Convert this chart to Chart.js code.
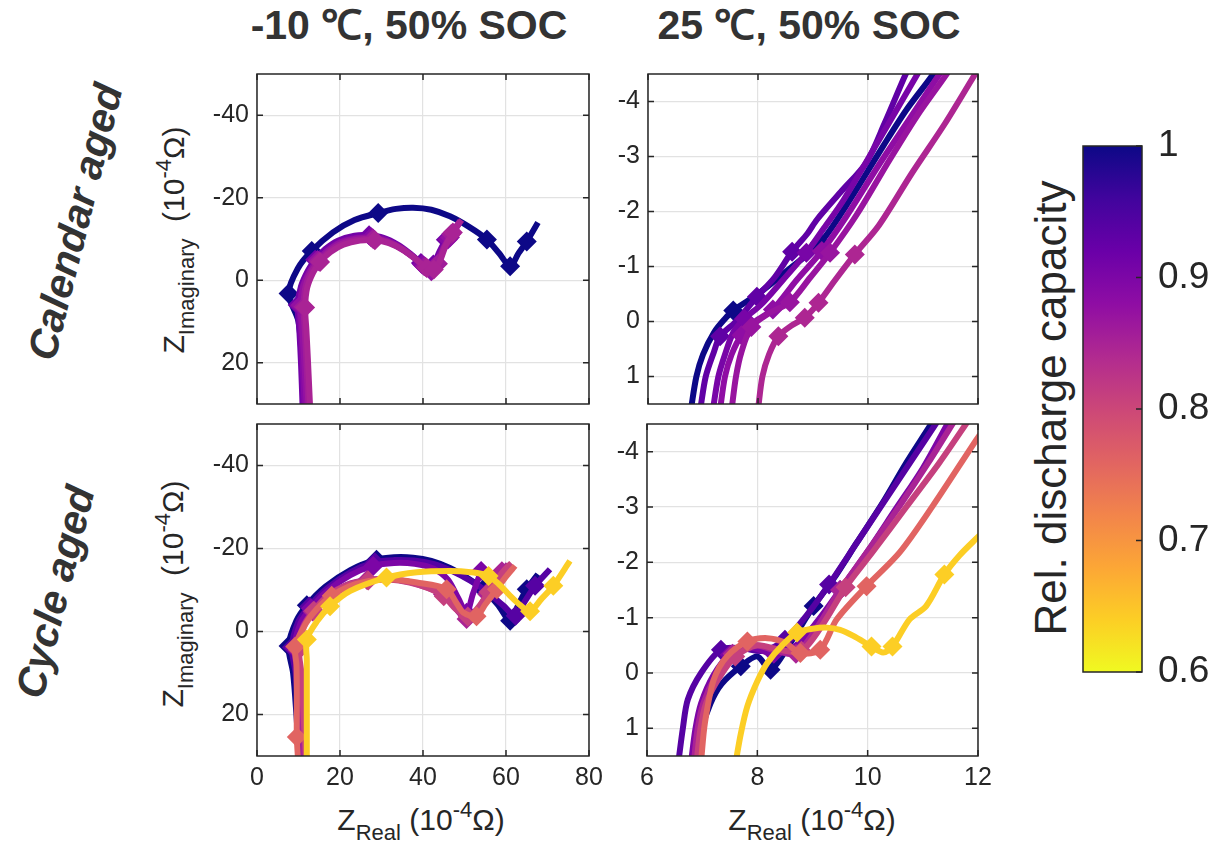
<!DOCTYPE html>
<html>
<head>
<meta charset="utf-8">
<script src="https://cdn.jsdelivr.net/npm/chart.js@4.4.1/dist/chart.umd.min.js"></script>
<style>
body{margin:0;background:#fff;width:1220px;height:844px;position:relative;overflow:hidden;font-family:'Liberation Sans',Arial,sans-serif;color:#262626}
.cv{position:absolute}
.head{position:absolute;top:5px;font:bold 41px/40px 'Liberation Sans',Arial,sans-serif;color:#333;transform:translateX(-50%);white-space:nowrap}
.row{position:absolute;font:italic bold 41px/40px 'Liberation Sans',Arial,sans-serif;color:#333;white-space:nowrap;transform:translate(-50%,-50%) rotate(-76deg)}
.ylab{position:absolute;font:30px/30px 'Liberation Sans',Arial,sans-serif;white-space:nowrap;transform:translate(-50%,-50%) rotate(-90deg)}
.xlab{position:absolute;font:30px/30px 'Liberation Sans',Arial,sans-serif;white-space:nowrap;transform:translateX(-50%)}
.cbt{position:absolute;font:44px/44px 'Liberation Sans',Arial,sans-serif;white-space:nowrap;transform:translate(-50%,-50%) rotate(-90deg)}
sub,sup{font-size:22px;line-height:0;position:relative;vertical-align:baseline}
sub{top:10px}
sup{top:-13px}
</style>
</head>
<body>
<div class="head" style="left:409px">-10 ℃, 50% SOC</div>
<div class="head" style="left:809px">25 ℃, 50% SOC</div>
<div class="row" style="left:75px;top:222px">Calendar aged</div>
<div class="row" style="left:55px;top:592px">Cycle aged</div>
<div class="ylab" style="left:174px;top:240px">Z<sub>Imaginary</sub>&nbsp; (10<sup>-4</sup>Ω)</div>
<div class="ylab" style="left:173px;top:594px">Z<sub>Imaginary</sub>&nbsp; (10<sup>-4</sup>Ω)</div>
<div class="xlab" style="left:421px;top:805px">Z<sub>Real</sub> (10<sup>-4</sup>Ω)</div>
<div class="xlab" style="left:812px;top:805px">Z<sub>Real</sub> (10<sup>-4</sup>Ω)</div>
<div class="cbt" style="left:1051px;top:408px">Rel. discharge capacity</div>

<canvas id="tl" class="cv" width="414" height="354" style="left:195px;top:60px"></canvas>
<canvas id="tr" class="cv" width="412" height="354" style="left:586px;top:60px"></canvas>
<canvas id="bl" class="cv" width="414" height="392" style="left:195px;top:410px"></canvas>
<canvas id="br" class="cv" width="413" height="392" style="left:585px;top:410px"></canvas>
<canvas id="cb" class="cv" width="141" height="570" style="left:1079px;top:126px"></canvas>

<script>
// axis ranges and ticks
var coldRe = [0, 80], coldIm = [-50, 30];
var warmRe = [6, 12], warmIm = [-4.5, 1.5];
var coldReTicks = [0, 20, 40, 60, 80];
var coldImTicks = [-40, -20, 0, 20];
var warmReTicks = [6, 8, 10, 12];
var warmImTicks = [-4, -3, -2, -1, 0, 1];
var capRange = [0.6, 1.0];
var capTicks = [0.6, 0.7, 0.8, 0.9, 1];

// -10 C, calendar aged (rel. capacity of each curve)
var calColdCap = [1.0, 0.91, 0.89, 0.875, 0.86, 0.85];
var calColdRe = [
  [11.2, 10.8, 10.0, 7.6, 9.8, 13.2, 18.3, 23.5, 29.2, 33.5, 37.6, 42.0, 46.5, 51.0, 55.4, 58.3, 61.0, 63.0, 65.0, 67.7],
  [11.0, 10.6, 10.2, 9.8, 10.6, 12.2, 14.0, 16.5, 19.5, 23.5, 27.0, 30.5, 34.0, 37.0, 39.5, 41.0, 42.5, 44.0, 45.5, 47.3],
  [11.5, 11.0, 10.6, 10.3, 11.0, 12.6, 14.5, 17.0, 20.0, 24.0, 27.5, 31.0, 34.3, 37.3, 39.8, 41.5, 42.8, 44.3, 46.0, 48.0],
  [12.0, 11.4, 10.9, 10.5, 11.2, 12.8, 14.6, 17.2, 20.3, 24.3, 27.9, 31.3, 34.6, 37.7, 40.3, 42.0, 43.3, 44.8, 46.5, 48.6],
  [12.4, 11.9, 11.5, 11.2, 11.7, 13.1, 14.9, 17.4, 20.5, 24.5, 28.0, 31.5, 35.0, 38.0, 40.6, 42.3, 43.6, 45.0, 46.8, 48.9],
  [12.8, 12.3, 11.9, 11.6, 12.1, 13.5, 15.2, 17.7, 20.8, 24.8, 28.4, 31.8, 35.2, 38.3, 40.9, 42.6, 44.0, 45.4, 47.2, 49.3]
];
var calColdIm = [
  [31, 20, 10, 3.2, -2.8, -7.1, -11.6, -14.6, -16.3, -17.3, -17.6, -17.1, -15.5, -13.0, -9.9, -6.6, -3.4, -6.5, -9.4, -14.0],
  [31, 20, 12, 6.0, 1.5, -2.2, -5.0, -7.6, -9.6, -10.8, -10.9, -10.3, -8.6, -6.4, -4.2, -3.0, -3.8, -7.0, -9.8, -12.5],
  [31, 20, 12, 6.2, 1.6, -2.0, -4.7, -7.2, -9.2, -10.3, -10.4, -9.8, -8.1, -5.9, -3.8, -2.4, -3.4, -6.8, -9.9, -13.0],
  [31, 20, 12, 6.0, 1.3, -2.2, -4.9, -7.3, -9.2, -10.2, -10.2, -9.5, -7.8, -5.6, -3.4, -2.2, -3.6, -7.2, -10.4, -13.6],
  [31, 20, 12, 6.4, 1.5, -2.0, -4.6, -7.0, -8.9, -9.9, -10.0, -9.3, -7.6, -5.4, -3.3, -2.4, -4.0, -7.8, -11.2, -14.4],
  [31, 20, 12, 6.6, 1.8, -1.8, -4.4, -6.8, -8.6, -9.6, -9.7, -9.0, -7.3, -5.0, -3.0, -2.6, -4.5, -8.2, -11.6, -14.6]
];
var calColdMark = [[3, 5, 8, 14, 16, 18], [3, 6, 10, 14, 16, 18], [3, 6, 10, 14, 16, 18], [3, 6, 10, 14, 15, 18], [3, 6, 10, 14, 16, 18], [3, 6, 10, 14, 15, 18]];

// 25 C, calendar aged
var calWarmCap = [1.0, 0.93, 0.905, 0.88, 0.87, 0.845];
var calWarmRe = [
  [6.78, 6.88, 7.0, 7.2, 7.4, 7.55, 8.0, 8.5, 9.13, 9.6, 10.27, 10.7, 11.18, 11.3],
  [6.95, 7.05, 7.2, 7.31, 7.6, 7.98, 8.3, 8.62, 8.9, 9.07, 9.5, 9.97, 10.3, 10.7, 10.8],
  [7.18, 7.28, 7.4, 7.55, 7.75, 8.05, 8.45, 8.88, 9.2, 9.55, 10.2, 10.9, 11.0],
  [7.31, 7.4, 7.52, 7.7, 7.95, 8.27, 8.7, 9.16, 9.6, 10.2, 10.8, 11.3, 11.4],
  [7.52, 7.6, 7.7, 7.88, 8.2, 8.58, 8.95, 9.31, 9.8, 10.4, 10.9, 11.43, 11.55],
  [8.0, 8.08, 8.2, 8.37, 8.6, 8.85, 9.1, 9.4, 9.76, 10.2, 10.8, 11.4, 11.95, 12.05]
];
var calWarmIm = [
  [1.6, 1.0, 0.6, 0.2, -0.05, -0.2, -0.5, -0.9, -1.43, -2.1, -3.18, -3.85, -4.49, -4.7],
  [1.6, 1.0, 0.55, 0.27, 0.0, -0.45, -0.8, -1.27, -1.6, -1.85, -2.35, -2.89, -3.6, -4.53, -4.7],
  [1.6, 1.0, 0.6, 0.2, -0.05, -0.3, -0.75, -1.25, -1.7, -2.2, -3.3, -4.5, -4.7],
  [1.6, 1.0, 0.6, 0.25, 0.0, -0.22, -0.75, -1.28, -1.9, -2.85, -3.75, -4.5, -4.65],
  [1.6, 1.0, 0.55, 0.1, -0.15, -0.35, -0.8, -1.25, -1.95, -2.95, -3.75, -4.5, -4.7],
  [1.6, 1.0, 0.6, 0.27, 0.08, -0.07, -0.34, -0.75, -1.22, -1.75, -2.7, -3.6, -4.5, -4.65]
];
var calWarmMark = [[5, 8], [3, 5, 7], [4, 7], [3, 5, 7], [3, 5, 7], [3, 5, 6, 8]];

// -10 C, cycle aged
var cycColdCap = [1.0, 0.94, 0.9, 0.85, 0.81, 0.76, 0.64];
var cycColdRe = [
  [10.2, 9.5, 8.7, 7.6, 9.5, 12.0, 16.5, 22.5, 28.8, 33.0, 37.6, 42.0, 46.5, 50.5, 54.5, 58.0, 61.0, 63.0, 65.0, 67.7],
  [10.6, 10.0, 9.3, 8.4, 10.0, 12.6, 16.9, 22.6, 28.4, 33.0, 37.8, 42.5, 47.0, 51.5, 55.5, 59.3, 62.3, 64.5, 67.0, 70.6],
  [11.0, 10.4, 9.8, 9.0, 10.5, 13.0, 17.0, 22.5, 28.0, 33.0, 38.0, 42.5, 46.0, 48.5, 50.5, 52.0, 54.0],
  [11.4, 10.8, 10.3, 9.8, 11.0, 13.4, 17.0, 21.5, 26.5, 31.5, 36.5, 41.0, 44.8, 47.5, 50.5, 53.0, 55.5, 57.5, 59.0, 60.5],
  [11.8, 11.2, 10.7, 10.1, 11.3, 13.7, 17.3, 21.8, 26.8, 31.8, 36.8, 41.3, 45.0, 47.8, 50.8, 53.3, 55.8, 57.8, 59.6, 61.3],
  [9.9, 9.6, 9.6, 9.5, 9.2, 11.8, 14.5, 18.0, 22.0, 27.0, 32.0, 38.5, 45.7, 48.0, 49.7, 52.9, 55.0, 57.8, 60.0, 62.2],
  [12.0, 12.0, 12.0, 12.0, 12.0, 14.5, 17.6, 22.5, 31.2, 38.5, 46.5, 51.5, 55.8, 58.5, 61.0, 63.5, 65.8, 68.5, 71.4, 75.4]
];
var cycColdIm = [
  [31, 20, 10, 3.5, -2.6, -6.3, -10.8, -14.8, -17.3, -17.9, -17.8, -17.0, -15.3, -13.0, -10.2, -6.5, -2.6, -6.5, -10.2, -13.8],
  [31, 20, 10, 3.8, -2.4, -6.0, -10.4, -14.3, -16.7, -17.2, -17.1, -16.3, -14.6, -12.2, -9.5, -6.3, -3.8, -7.2, -11.0, -15.0],
  [31, 20, 10, 4.0, -2.0, -5.6, -9.8, -13.6, -15.8, -16.5, -16.3, -15.2, -12.5, -8.0, -4.5, -9.0, -14.6],
  [31, 20, 10, 4.5, -1.0, -4.8, -8.6, -11.2, -12.4, -12.6, -12.0, -10.6, -9.0, -6.0, -3.0, -5.0, -9.0, -12.0, -14.5, -16.2],
  [31, 20, 10, 4.4, -1.2, -5.0, -8.7, -11.2, -12.3, -12.5, -11.8, -10.4, -8.5, -5.5, -3.6, -5.8, -9.5, -12.5, -14.8, -16.5],
  [31, 25.4, 15, 8, 3.6, -2.0, -5.5, -8.6, -10.8, -12.2, -12.6, -11.8, -10.2, -7.0, -4.6, -3.7, -6.5, -10.2, -13.2, -15.8],
  [31, 22, 14, 7, 1.9, -2.5, -6.1, -9.8, -13.0, -14.3, -14.6, -14.3, -13.4, -11.2, -8.6, -6.3, -4.9, -7.8, -11.0, -17.0]
];
var cycColdMark = [[3, 5, 8, 14, 16, 18], [3, 5, 8, 14, 16, 18], [3, 5, 8, 14, 16], [3, 5, 8, 12, 14, 16, 18], [3, 5, 8, 12, 14, 16], [1, 4, 7, 12, 15, 17], [4, 6, 8, 12, 16, 18]];

// 25 C, cycle aged
var cycWarmCap = [1.0, 0.94, 0.9, 0.85, 0.81, 0.76, 0.64];
var cycWarmRe = [
  [6.92, 7.0, 7.15, 7.35, 7.7, 8.0, 8.24, 8.6, 9.02, 9.38, 9.8, 10.28, 10.7, 11.15, 11.3],
  [6.57, 6.65, 6.74, 6.98, 7.34, 7.7, 8.1, 8.5, 8.9, 9.3, 9.8, 10.3, 10.8, 11.3],
  [6.8, 6.88, 6.98, 7.2, 7.5, 7.9, 8.3, 8.7, 9.1, 9.5, 10.0, 10.5, 11.0, 11.5],
  [6.85, 6.92, 7.02, 7.25, 7.55, 7.95, 8.35, 8.7, 9.1, 9.5, 10.0, 10.6, 11.1, 11.6],
  [6.9, 6.97, 7.07, 7.3, 7.6, 8.0, 8.4, 8.8, 9.2, 9.6, 10.1, 10.7, 11.3, 11.85],
  [6.98, 7.05, 7.21, 7.45, 7.82, 8.18, 8.5, 8.78, 9.14, 9.44, 9.98, 10.58, 11.18, 11.96, 12.1],
  [7.61, 7.7, 7.82, 8.0, 8.18, 8.45, 8.72, 9.0, 9.26, 9.5, 9.74, 10.07, 10.28, 10.45, 10.76, 11.06, 11.39, 11.66, 11.99, 12.1]
];
var cycWarmIm = [
  [1.6, 1.0, 0.55, 0.2, -0.12, -0.3, -0.06, -0.55, -1.21, -1.7, -2.35, -3.09, -3.8, -4.5, -4.75],
  [1.6, 1.0, 0.48, 0.0, -0.42, -0.45, -0.4, -0.6, -1.05, -1.6, -2.35, -3.1, -3.85, -4.6],
  [1.6, 1.0, 0.55, 0.05, -0.33, -0.45, -0.35, -0.5, -0.95, -1.5, -2.2, -2.95, -3.7, -4.6],
  [1.6, 1.0, 0.55, 0.05, -0.35, -0.5, -0.4, -0.35, -0.85, -1.5, -2.2, -3.05, -3.8, -4.6],
  [1.6, 1.0, 0.55, 0.1, -0.3, -0.5, -0.42, -0.4, -0.9, -1.55, -2.2, -3.0, -3.8, -4.6],
  [1.6, 0.9, 0.12, -0.3, -0.57, -0.63, -0.55, -0.36, -0.42, -0.97, -1.57, -2.18, -3.02, -4.2, -4.4],
  [1.6, 1.1, 0.6, 0.15, -0.18, -0.5, -0.73, -0.8, -0.82, -0.78, -0.67, -0.48, -0.37, -0.48, -0.97, -1.21, -1.78, -2.12, -2.45, -2.55]
];
var cycWarmMark = [[4, 6, 8], [4, 7, 9], [4, 6, 9], [4, 7, 9], [4, 7, 9], [4, 7, 8, 10], [6, 11, 13, 16]];

// plasma colormap
var plasmaStops = ['#0d0887', '#41049d', '#6a00a8', '#8f0da4', '#b12a90', '#cc4778', '#e16462', '#f2844b', '#fca636', '#fcce25', '#f0f921'];
var ink = '#262626';
var gridCol = '#e2e2e2';
var tickFont = {family: "'Liberation Sans', Arial, sans-serif", size: 25};

function hex(h) {
  return [parseInt(h.substr(1, 2), 16), parseInt(h.substr(3, 2), 16), parseInt(h.substr(5, 2), 16)];
}
function plasma(cap) {
  var t = (capRange[1] - cap) / (capRange[1] - capRange[0]);
  t = Math.max(0, Math.min(1, t)) * 10;
  var k = Math.min(9, Math.floor(t)), f = t - k;
  var a = hex(plasmaStops[k]), b = hex(plasmaStops[k + 1]);
  return 'rgb(' + a.map(function(v, j) { return Math.round(v + (b[j] - v) * f); }).join(',') + ')';
}

// box round the plot area with inward ticks, like matlab
var frame = {
  id: 'frame',
  afterDatasetsDraw: function(chart, args, opts) {
    var a = chart.chartArea, c = chart.ctx, t = 6;
    var sx = chart.scales.x, sy = chart.scales.y;
    c.save();
    c.strokeStyle = ink;
    c.lineWidth = 1.5;
    c.beginPath();
    if (!opts.rightOnly) {
      sx.ticks.forEach(function(tk) {
        var p = sx.getPixelForValue(tk.value);
        c.moveTo(p, a.bottom); c.lineTo(p, a.bottom - t);
        c.moveTo(p, a.top); c.lineTo(p, a.top + t);
      });
    }
    sy.ticks.forEach(function(tk) {
      var p = sy.getPixelForValue(tk.value);
      if (!opts.rightOnly) { c.moveTo(a.left, p); c.lineTo(a.left + t, p); }
      c.moveTo(a.right, p); c.lineTo(a.right - t, p);
    });
    c.stroke();
    c.strokeRect(a.left, a.top, a.right - a.left, a.bottom - a.top);
    c.restore();
  }
};

function panel(id, re, im, cap, mark, xr, yr, xt, yt, showX) {
  var sets = re.map(function(xs, i) {
    var col = plasma(cap[i]);
    var rad = function(ctx) { return mark[i].indexOf(ctx.dataIndex) >= 0 ? 10 : 0; };
    return {
      data: xs.map(function(x, k) { return {x: x, y: im[i][k]}; }),
      showLine: true,
      borderColor: col,
      backgroundColor: col,
      borderWidth: 6,
      borderJoinStyle: 'round',
      tension: 0.3,
      clip: 0,
      order: -i,
      pointStyle: 'rectRot',
      pointBorderWidth: 0,
      pointRadius: rad,
      pointHoverRadius: rad
    };
  });
  new Chart(document.getElementById(id), {
    type: 'scatter',
    data: {datasets: sets},
    options: {
      responsive: false,
      animation: false,
      devicePixelRatio: 1,
      events: [],
      layout: {padding: {top: 14, right: 20, left: 0, bottom: 0}},
      plugins: {legend: {display: false}, tooltip: {enabled: false}},
      scales: {
        x: {
          type: 'linear', min: xr[0], max: xr[1],
          afterBuildTicks: function(s) { s.ticks = xt.map(function(v) { return {value: v}; }); },
          afterFit: function(s) { s.height = showX ? 46 : 10; s.paddingLeft = 0; s.paddingRight = 0; },
          ticks: {display: showX, font: tickFont, color: ink, padding: 7, maxRotation: 0},
          grid: {color: gridCol, lineWidth: 1.2, drawTicks: false},
          border: {display: false}
        },
        y: {
          type: 'linear', reverse: true, min: yr[0], max: yr[1],
          afterBuildTicks: function(s) { s.ticks = yt.map(function(v) { return {value: v}; }); },
          afterFit: function(s) { s.width = 62; s.paddingTop = 0; s.paddingBottom = 0; },
          ticks: {font: tickFont, color: ink, padding: 8},
          grid: {color: gridCol, lineWidth: 1.2, drawTicks: false},
          border: {display: false}
        }
      }
    },
    plugins: [frame]
  });
}

panel('tl', calColdRe, calColdIm, calColdCap, calColdMark, coldRe, coldIm, coldReTicks, coldImTicks, false);
panel('tr', calWarmRe, calWarmIm, calWarmCap, calWarmMark, warmRe, warmIm, warmReTicks, warmImTicks, false);
panel('bl', cycColdRe, cycColdIm, cycColdCap, cycColdMark, coldRe, coldIm, coldReTicks, coldImTicks, true);
panel('br', cycWarmRe, cycWarmIm, cycWarmCap, cycWarmMark, warmRe, warmIm, warmReTicks, warmImTicks, true);

// colour bar
new Chart(document.getElementById('cb'), {
  type: 'bar',
  data: {
    labels: ['cap'],
    datasets: [{
      data: [capRange],
      barPercentage: 1,
      categoryPercentage: 1,
      backgroundColor: function(ctx) {
        var a = ctx.chart.chartArea;
        if (!a) return null;
        var g = ctx.chart.ctx.createLinearGradient(0, a.bottom, 0, a.top);
        for (var k = 0; k <= 10; k++) g.addColorStop(k / 10, plasmaStops[10 - k]);
        return g;
      }
    }]
  },
  options: {
    responsive: false,
    animation: false,
    devicePixelRatio: 1,
    events: [],
    layout: {padding: {top: 20, bottom: 24, left: 4, right: 0}},
    plugins: {legend: {display: false}, tooltip: {enabled: false}, frame: {rightOnly: true}},
    scales: {
      x: {display: false},
      y: {
        position: 'right', min: capRange[0], max: capRange[1],
        afterBuildTicks: function(s) { s.ticks = capTicks.map(function(v) { return {value: v}; }); },
        afterFit: function(s) { s.width = 78; s.paddingTop = 0; s.paddingBottom = 0; },
        ticks: {
          font: {family: "'Liberation Sans', Arial, sans-serif", size: 37},
          color: ink, padding: 16,
          callback: function(v) { return v === 1 ? '1' : v.toFixed(1); }
        },
        grid: {display: false, drawTicks: false},
        border: {display: false}
      }
    }
  },
  plugins: [frame]
});
</script>
</body>
</html>
